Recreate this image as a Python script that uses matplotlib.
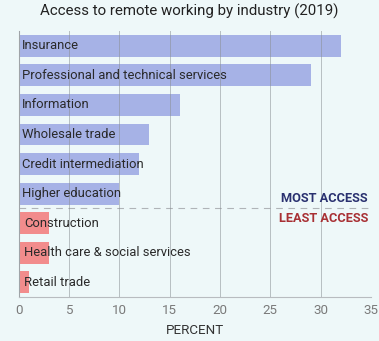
import matplotlib
matplotlib.use("Agg")
import matplotlib.pyplot as plt

plt.rcParams["font.family"] = ["Roboto", "DejaVu Sans"]

# Share of workers with access to remote work, by industry (2019)
industries = [
    "Insurance",
    "Professional and technical services",
    "Information",
    "Wholesale trade",
    "Credit intermediation",
    "Higher education",
    "Construction",
    "Health care & social services",
    "Retail trade",
]
percent = [32, 29, 16, 13, 12, 10, 3, 3, 1]
group = ["most"] * 6 + ["least"] * 3

colors = {"most": "#a6b2e6", "least": "#f28c8c"}
bg = "#eef8f9"

fig = plt.figure(figsize=(3.79, 3.41), dpi=100, facecolor=bg)
ax = fig.add_axes([0.049, 0.129, 0.93, 0.78], facecolor=bg)

y = list(range(len(industries)))
ax.barh(y, percent, height=0.74, color=[colors[g] for g in group], zorder=1)

for i, (name, g) in enumerate(zip(industries, group)):
    x0 = 0.35 if g == "most" else 0.55
    ax.text(x0, i, name, va="center", ha="left", fontsize=9.4, color="#2a2a2a", zorder=3)

ax.set_ylim(len(industries) - 0.5, -0.5)
ax.set_xlim(0, 35)
ax.set_xticks(range(0, 36, 5))
ax.set_yticks([])
ax.grid(axis="x", color="#8a8f94", linewidth=0.7, alpha=0.55, zorder=2)
ax.set_axisbelow(False)

# split between the two groups
ax.axhline(5.5, color="#b0b4b8", linewidth=0.8, linestyle=(0, (6, 5)), zorder=2)
ax.text(34.7, 5.5 - 0.12, "MOST ACCESS", ha="right", va="bottom", fontsize=9.2,
        fontweight="bold", color="#2a3170")
ax.text(34.7, 5.5 + 0.12, "LEAST ACCESS", ha="right", va="top", fontsize=9.2,
        fontweight="bold", color="#a83034")

for side in ["top", "right"]:
    ax.spines[side].set_visible(False)
ax.spines["left"].set_color("#b8bcc0")
ax.spines["bottom"].set_color("#b8bcc0")
ax.tick_params(axis="x", length=0, colors="#7a7a7a", labelsize=9.6, pad=5)

ax.set_xlabel("PERCENT", fontsize=9.6, color="#333333", labelpad=5)
fig.suptitle("Access to remote working by industry (2019)", fontsize=10.8, color="#222222",
             x=0.5, y=0.99)

fig.savefig("out.png", dpi=100, facecolor=bg)
